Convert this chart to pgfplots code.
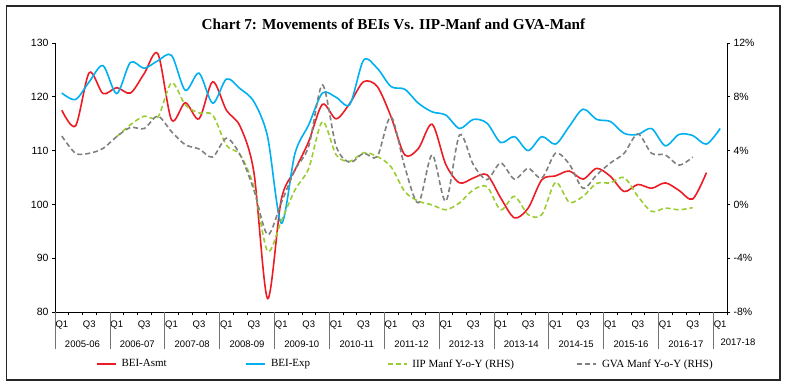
\documentclass[border=0pt]{standalone}
\usepackage{pgfplots}
\pgfplotsset{compat=1.18}
\usepackage{pgfplotstable}
\usepackage{fontspec}
\setmainfont{Liberation Serif}
\setsansfont{Liberation Sans}
\definecolor{cred}{RGB}{237,28,36}
\definecolor{cblue}{RGB}{0,176,240}
\definecolor{cgreen}{RGB}{154,205,50}
\definecolor{cgray}{RGB}{128,128,128}

% BEI-Asmt (LHS)
\pgfplotstableread{
i v
0 117.5
1 114.6
2 124.5
3 120.6
4 121.7
5 120.7
6 124.3
7 128.0
8 115.7
9 118.9
10 115.9
11 122.8
12 117.5
13 114.5
14 106.0
15 82.5
16 100.9
17 106.4
18 111.7
19 118.6
20 115.9
21 118.8
22 122.8
23 121.9
24 116.3
25 109.2
26 110.4
27 114.9
28 107.4
29 104.0
30 104.9
31 105.5
32 101.2
33 97.5
34 99.3
35 104.6
36 105.3
37 106.2
38 104.7
39 106.7
40 105.2
41 102.4
42 103.7
43 103.0
44 104.0
45 102.6
46 101.0
47 105.9
}\asmt

% BEI-Exp (LHS)
\pgfplotstableread{
i v
0 120.7
1 119.5
2 122.8
3 125.8
4 120.6
5 126.4
6 125.3
7 126.7
8 127.7
9 121.2
10 124.4
11 118.8
12 123.3
13 121.5
14 119.1
15 112.6
16 96.5
17 109.5
18 114.8
19 120.7
20 119.9
21 118.6
22 126.8
23 125.3
24 121.9
25 121.4
26 118.8
27 117.2
28 116.6
29 114.1
30 115.8
31 115.1
32 111.5
33 112.6
34 110.0
35 112.6
36 111.2
37 114.5
38 117.7
39 115.8
40 115.4
41 113.2
42 113.0
43 114.1
44 110.9
45 113.0
46 112.8
47 111.2
48 114.1
}\bexp

% IIP Manf Y-o-Y (RHS, per cent)
\pgfplotstableread{
i v
4 5.04
5 5.92
6 6.56
7 6.48
8 9.04
9 7.40
10 6.80
11 6.64
12 4.40
13 3.68
14 1.32
15 -3.48
16 -1.24
17 1.08
18 2.68
19 6.16
20 3.68
21 3.20
22 3.84
23 3.56
24 2.80
25 0.96
26 0.24
27 -0.04
28 -0.40
29 0.12
30 1.08
31 1.32
32 -0.40
33 0.60
34 -0.76
35 -0.76
36 1.64
37 0.16
38 0.60
39 1.56
40 1.60
41 2.00
42 0.60
43 -0.52
44 -0.28
45 -0.40
46 -0.24
}\iip

% GVA Manf Y-o-Y (RHS, per cent)
\pgfplotstableread{
i v
0 5.08
1 3.80
2 3.80
3 4.16
4 5.04
5 5.72
6 5.64
7 6.56
8 5.40
9 4.44
10 4.12
11 3.52
12 4.92
13 3.68
14 1.08
15 -2.24
16 0.12
17 2.56
18 4.32
19 8.88
20 4.32
21 3.12
22 3.80
23 3.56
24 6.52
25 2.80
26 0.12
27 3.68
28 0.24
29 5.16
30 2.96
31 1.84
32 3.08
33 1.88
34 2.68
35 1.96
36 3.80
37 3.00
38 1.20
39 2.20
40 3.08
41 3.80
42 5.24
43 3.80
44 3.68
45 2.92
46 3.52
}\gva

\pgfplotsset{
  common/.style={
    at={(55pt,75pt)}, anchor=south west,
    scale only axis, width=672pt, height=269pt,
    xmin=-0.5, xmax=48.5,
    axis line style={-, line width=0.8pt, black},
    tick align=outside, major tick length=3pt, minor tick length=3pt,
    tick style={black, line width=0.6pt},
    /pgf/number format/assume math mode=true,
  },
  asmtstyle/.style={cred, line width=1.6pt, smooth, tension=0.5},
  expstyle/.style={cblue, line width=1.6pt, smooth, tension=0.5},
  iipstyle/.style={cgreen, line width=1.6pt, smooth, tension=0.5, dash pattern=on 5pt off 3pt},
  gvastyle/.style={cgray, line width=1.6pt, smooth, tension=0.5, dash pattern=on 5pt off 3pt},
}

\begin{document}
\begin{tikzpicture}[x=1pt,y=1pt]
\useasboundingbox (0,0) rectangle (787,387);
\draw[line width=1.1pt, black!85] (6.5,7) rectangle (780,381);
\node[font=\bfseries\fontsize{15.2}{17}\selectfont] at (393.5,363)
  {Chart 7: Movements of BEIs Vs. IIP-Manf and GVA-Manf};

\begin{axis}[common,
  ymin=80, ymax=130,
  axis x line*=bottom, axis y line*=left,
  ytick={80,90,...,130},
  yticklabels={80,90,100,110,120,130},
  yticklabel style={font=\sffamily\fontsize{10.5}{12}\selectfont},
  xtick={0,2,...,48},
  xticklabels={Q1,Q3,Q1,Q3,Q1,Q3,Q1,Q3,Q1,Q3,Q1,Q3,Q1,Q3,Q1,Q3,Q1,Q3,Q1,Q3,Q1,Q3,Q1,Q3,Q1},
  every major x tick/.append style={draw=none},
  minor xtick={-0.5,0.5,...,48.5},
  xticklabel style={font=\sffamily\fontsize{9.5}{11}\selectfont, yshift=-2pt},
  extra x ticks={1.5,5.5,...,45.5},
  extra x tick labels={2005-06,2006-07,2007-08,2008-09,2009-10,2010-11,2011-12,2012-13,2013-14,2014-15,2015-16,2016-17},
  extra x tick style={tick label style={yshift=-20pt}},
]
\addplot[asmtstyle] table[x=i,y=v] {\asmt};
\addplot[expstyle] table[x=i,y=v] {\bexp};
\end{axis}

\begin{axis}[common,
  ymin=-8, ymax=12,
  axis x line=none, axis y line*=right,
  ytick={-8,-4,...,12},
  yticklabels={-8\%,-4\%,0\%,4\%,8\%,12\%},
  yticklabel style={font=\sffamily\fontsize{10.5}{12}\selectfont},
  legend columns=4,
  legend style={draw=none, fill=none, at={(0.0561,-0.1933)}, anchor=west,
    font=\fontsize{11}{13}\selectfont, column sep=0pt,
    nodes={inner sep=0pt}},
  legend image code/.code={\draw (0pt,0pt) -- (19pt,0pt);},
]
\addlegendimage{asmtstyle}
\addlegendentry{\hspace{5pt}\makebox[124pt][l]{BEI-Asmt}}
\addlegendimage{expstyle}
\addlegendentry{\hspace{5pt}\makebox[115.7pt][l]{BEI-Exp}}
\addplot[iipstyle] table[x=i,y=v] {\iip};
\addlegendentry{\hspace{5pt}\makebox[164pt][l]{IIP Manf Y-o-Y (RHS)}}
\addplot[gvastyle] table[x=i,y=v] {\gva};
\addlegendentry{\hspace{5pt}GVA Manf Y-o-Y (RHS)}
\end{axis}

\foreach \k in {0,...,12} \draw[black!55, line width=0.6pt] ({55+54.857*\k},75) -- ++(0,-37);
\node[font=\sffamily\fontsize{9.5}{11}\selectfont] at (738,44.3) {2017-18};
\end{tikzpicture}
\end{document}
